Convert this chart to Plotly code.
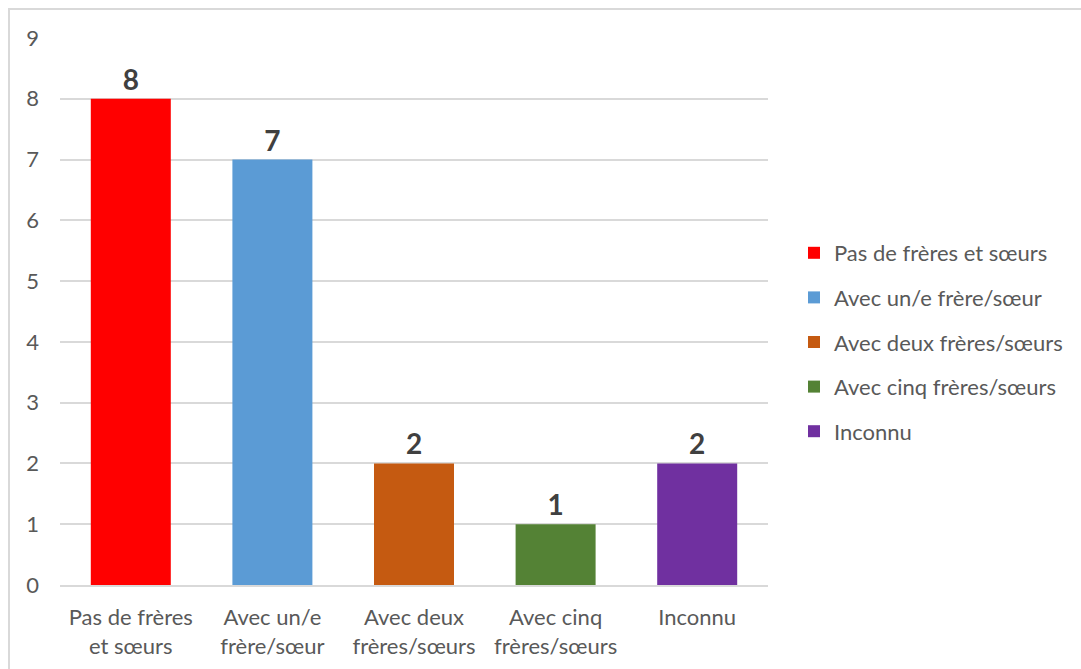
import plotly.graph_objects as go

# Répartition selon la fratrie
categories = ["Pas de frères<br>et sœurs", "Avec un/e<br>frère/sœur", "Avec deux<br>frères/sœurs",
              "Avec cinq<br>frères/sœurs", "Inconnu"]
legend_names = ["Pas de frères et sœurs", "Avec un/e frère/sœur", "Avec deux frères/sœurs",
                "Avec cinq frères/sœurs", "Inconnu"]
values = [8, 7, 2, 1, 2]
colors = ["#FF0000", "#5B9BD5", "#C55A11", "#548235", "#7030A0"]
y_ticks = list(range(0, 10))

W, H = 1081, 669
ML, MR, MT, MB = 60, 313, 38, 84
PW, PH = W - ML - MR, H - MT - MB

FONT = "Lato, Carlito, Calibri, sans-serif"
TXT = 22

fig = go.Figure()
for cat, name, v, c in zip(categories, legend_names, values, colors):
    fig.add_trace(go.Bar(
        x=[cat], y=[v], name=name, legendgroup=name,
        marker=dict(color=c, line=dict(width=0)),
        text=[str(v)], textposition="outside", cliponaxis=False,
        textfont=dict(family=FONT, size=28, color="#404040", weight="bold"),
    ))

# light frame around the chart area
def px_to_paper_x(px):
    return (px - ML) / PW

def px_to_paper_y(py):
    return (H - MB - py) / PH

fig.add_shape(type="rect", xref="paper", yref="paper",
              x0=px_to_paper_x(9), x1=px_to_paper_x(W + 20),
              y0=px_to_paper_y(H + 20), y1=px_to_paper_y(9),
              line=dict(color="#D9D9D9", width=2), layer="below")

fig.update_layout(
    width=W, height=H,
    margin=dict(l=ML, r=MR, t=MT, b=MB, autoexpand=False),
    paper_bgcolor="white", plot_bgcolor="white",
    barmode="overlay", bargap=0.435,
    font=dict(family=FONT, size=TXT, color="#595959"),
    showlegend=True,
    legend=dict(
        x=px_to_paper_x(794), xanchor="left",
        y=px_to_paper_y(342), yanchor="middle",
        tracegroupgap=13,
        font=dict(family=FONT, size=TXT, color="#595959"),
        bgcolor="rgba(0,0,0,0)",
    ),
    xaxis=dict(
        showgrid=False, showline=True, linecolor="#D9D9D9", linewidth=1.5,
        ticks="", ticklabelstandoff=12,
        tickfont=dict(family=FONT, size=TXT, color="#595959"),
        categoryorder="array", categoryarray=categories,
    ),
    yaxis=dict(
        range=[0, 9], tickvals=y_ticks, showgrid=True, gridcolor="#D9D9D9", gridwidth=1.5,
        zeroline=False, showline=False, ticks="", ticklabelstandoff=20,
        tickfont=dict(family=FONT, size=TXT, color="#595959"),
    ),
)

fig.write_html("out.html")
